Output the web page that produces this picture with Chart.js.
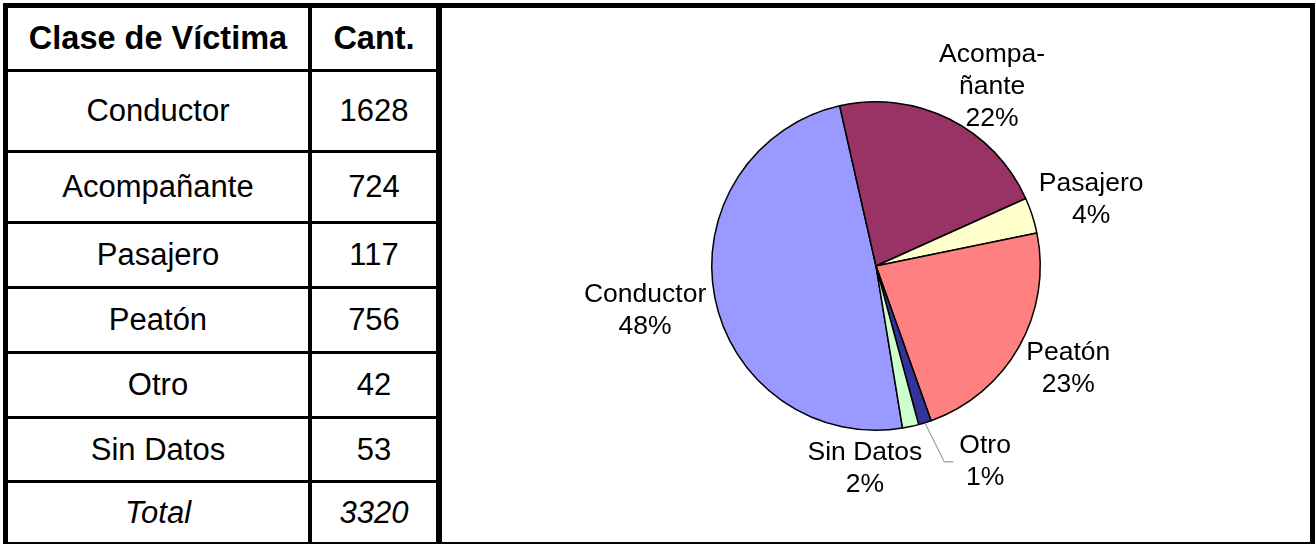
<!DOCTYPE html>
<html>
<head>
<meta charset="utf-8">
<script src="https://cdn.jsdelivr.net/npm/chart.js@4"></script>
<style>
  html, body { margin: 0; padding: 0; background: #fff; }
  body { width: 1316px; height: 545px; position: relative; overflow: hidden;
         font-family: "Liberation Sans", Arial, sans-serif; color: #000; }
  #frame { position: absolute; left: 3px; top: 3px; width: 1312px; height: 541px;
           box-sizing: border-box; border: solid #000; border-width: 5px 5px 2px 5px; }
  #tbl { position: absolute; left: 0; top: 0; width: 428px; height: 534px;
         border-right: 6px solid #000; }
  .row { display: flex; border-bottom: 3px solid #000; }
  .row:last-child { border-bottom: none; }
  .c1, .c2 { display: flex; align-items: center; justify-content: center; font-size: 31px; }
  .c1 { width: 300px; border-right: 4px solid #000; }
  .c2 { flex: 1; }
  .head { font-weight: bold; font-size: 32.5px; }
  .total { font-style: italic; }
  #pie { position: absolute; left: 434px; top: 0; width: 868px; height: 534px; }
</style>
</head>
<body>
<div id="frame">
  <div id="tbl"></div>
  <div id="pie"><canvas id="pieChart"></canvas></div>
</div>
<script>
// table / chart data
const headers = ['Clase de Víctima', 'Cant.'];
const categories = ['Conductor', 'Acompañante', 'Pasajero', 'Peatón', 'Otro', 'Sin Datos'];
const counts = [1628, 724, 117, 756, 42, 53];
const totalLabel = 'Total';
const pieLabelLines = [['Conductor'], ['Acompa-', 'ñante'], ['Pasajero'], ['Peatón'], ['Otro'], ['Sin Datos']];
const pctLabels = ['48%', '22%', '4%', '23%', '1%', '2%'];

const colors = ['#9999FF', '#993366', '#FFFFCC', '#FF8080', '#333399', '#CCFFCC'];

// row content heights (px) for header, 6 categories, total
const rowHeights = [61, 78, 68, 62, 62, 62, 61, 59];

// label placement: extra distance past the rim and angle nudge (deg)
const labelExtra = [71, 49, 61, 54, 60, 39];
const labelNudge = [0, 6.5, 0.7, -1.2, -11.8, 15.3];
const leaderFor = [false, false, false, false, true, false];

// build the table
const tbl = document.getElementById('tbl');
function addRow(a, b, cls, h) {
  const row = document.createElement('div');
  row.className = 'row';
  row.style.height = h + 'px';
  const c1 = document.createElement('div');
  c1.className = 'c1 ' + cls;
  c1.textContent = a;
  const c2 = document.createElement('div');
  c2.className = 'c2 ' + cls;
  c2.textContent = b;
  row.appendChild(c1);
  row.appendChild(c2);
  tbl.appendChild(row);
}
addRow(headers[0], headers[1], 'head', rowHeights[0]);
categories.forEach((c, i) => addRow(c, String(counts[i]), '', rowHeights[i + 1]));
const total = counts.reduce((s, v) => s + v, 0);
addRow(totalLabel, String(total), 'total', rowHeights[7]);

// pie labels
const pieLabels = {
  id: 'pieLabels',
  afterDatasetsDraw(chart) {
    const ctx = chart.ctx;
    const meta = chart.getDatasetMeta(0);
    const lineH = 32;
    ctx.save();
    ctx.font = '26.5px "Liberation Sans", Arial, sans-serif';
    ctx.fillStyle = '#000';
    ctx.textAlign = 'center';
    ctx.textBaseline = 'middle';
    meta.data.forEach((arc, i) => {
      const p = arc.getProps(['x', 'y', 'startAngle', 'endAngle', 'outerRadius'], true);
      const mid = (p.startAngle + p.endAngle) / 2;
      const a = mid + labelNudge[i] * Math.PI / 180;
      const r = p.outerRadius + labelExtra[i];
      const lx = p.x + r * Math.cos(a);
      const ly = p.y + r * Math.sin(a);
      const lines = pieLabelLines[i].concat([pctLabels[i]]);
      const n = lines.length;
      let w = 0;
      lines.forEach((t, k) => {
        w = Math.max(w, ctx.measureText(t).width);
        ctx.fillText(t, lx, ly + (k - (n - 1) / 2) * lineH);
      });
      if (leaderFor[i]) {
        ctx.strokeStyle = '#808080';
        ctx.lineWidth = 1;
        ctx.beginPath();
        ctx.moveTo(p.x + p.outerRadius * Math.cos(mid), p.y + p.outerRadius * Math.sin(mid));
        ctx.lineTo(lx - w / 2 - 15, ly);
        ctx.lineTo(lx - w / 2 - 6, ly);
        ctx.stroke();
      }
    });
    ctx.restore();
  }
};

new Chart(document.getElementById('pieChart'), {
  type: 'pie',
  data: {
    labels: categories,
    datasets: [{
      data: counts,
      backgroundColor: colors,
      borderColor: '#000',
      borderWidth: 1.5
    }]
  },
  options: {
    responsive: true,
    maintainAspectRatio: false,
    animation: false,
    rotation: 170.7,
    layout: { padding: { top: 93, bottom: 111, left: 0, right: 0 } },
    plugins: {
      legend: { display: false },
      tooltip: { enabled: false }
    }
  },
  plugins: [pieLabels]
});
</script>
</body>
</html>
